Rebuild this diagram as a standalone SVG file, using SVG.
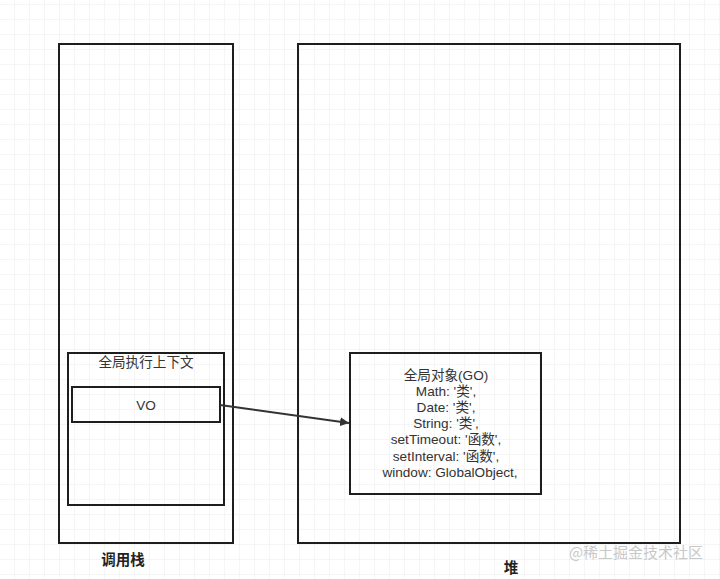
<svg xmlns="http://www.w3.org/2000/svg" width="720" height="579" viewBox="0 0 720 579">
<defs>
<pattern id="grid" x="0" y="5" width="15" height="15" patternUnits="userSpaceOnUse">
<path d="M15 0V15M0 15H15" fill="none" stroke="#ebebeb" stroke-width="1"/>
</pattern>
<marker id="arr" viewBox="0 0 10 10" refX="10" refY="5" markerWidth="9" markerHeight="9" markerUnits="userSpaceOnUse" orient="auto">
<path d="M0 0L10 5L0 10z" fill="#333"/>
</marker>
<style>
.box{fill:none;stroke:#1e1e1e;stroke-width:2}
.t{font-family:"Liberation Sans","Noto Sans CJK SC",sans-serif;font-size:13.6px;fill:#333;text-anchor:middle}
.b{font-family:"Noto Sans CJK SC",sans-serif;font-size:14.5px;font-weight:bold;fill:#222;text-anchor:middle}
</style>
</defs>
<rect width="720" height="579" fill="#fff"/>
<rect width="720" height="579" fill="url(#grid)"/>
<g id="callstack"><rect class="box" x="59" y="44" width="174" height="499"/><text class="b" x="123" y="565">调用栈</text></g>
<g id="heap"><rect class="box" x="298" y="44" width="382" height="499"/><text class="b" x="511" y="573">堆</text></g>
<g id="gec"><rect class="box" x="68" y="353" width="156" height="152"/><text class="t" x="146" y="367">全局执行上下文</text></g>
<g id="vo"><rect class="box" x="72" y="387" width="148" height="35"/><text class="t" x="146" y="410">VO</text></g>
<g id="go"><rect class="box" x="350" y="353" width="191" height="141"/>
<text class="t" x="446" y="380">全局对象(GO)</text>
<text class="t" x="446" y="396">Math: '类',</text>
<text class="t" x="446" y="412">Date: '类',</text>
<text class="t" x="446" y="428">String: '类',</text>
<text class="t" x="446" y="444">setTimeout: '函数',</text>
<text class="t" x="446" y="461">setInterval: '函数',</text>
<text class="t" x="450" y="477">window: GlobalObject,</text>
</g>
<g id="connectors"><line x1="220" y1="405" x2="349" y2="423" stroke="#333" stroke-width="2" marker-end="url(#arr)"/></g>
<text x="636" y="558" font-family="Noto Sans CJK SC,sans-serif" font-size="15" fill="#c8c8c8" text-anchor="middle">@稀土掘金技术社区</text>
</svg>
